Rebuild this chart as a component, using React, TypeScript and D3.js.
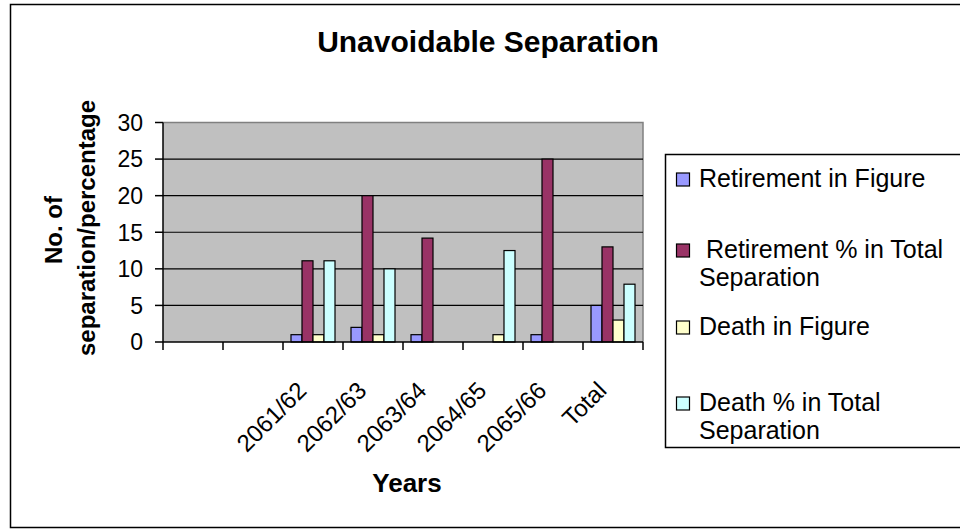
import React from "react";
import * as d3 from "d3";

// chart data
const categories = ["", "", "2061/62", "2062/63", "2063/64", "2064/65", "2065/66", "Total"];
const retirementFigure = [null, null, 1, 2, 1, 0, 1, 5];
const retirementPct = [null, null, 11.1, 20, 14.2, 0, 25, 13];
const deathFigure = [null, null, 1, 1, 0, 1, 0, 3];
const deathPct = [null, null, 11.1, 10, 0, 12.5, 0, 7.9];
const yTicks = [0, 5, 10, 15, 20, 25, 30];

const seriesLabels = [
  ["Retirement in Figure"],
  [" Retirement % in Total", "Separation"],
  ["Death in Figure"],
  ["Death % in Total", "Separation"],
];
const seriesColors = ["#9999FF", "#993366", "#FFFFCC", "#CCFFFF"];

const FONT = "'Liberation Sans', Arial, Helvetica, sans-serif";

export default function App() {
  const width = 960;
  const height = 529;
  const plot = { left: 163, right: 643, top: 122.5, bottom: 342 };

  const series = [retirementFigure, retirementPct, deathFigure, deathPct];

  const x0 = d3
    .scaleBand<number>()
    .domain(categories.map((_, i) => i))
    .range([plot.left, plot.right])
    .padding(0);

  const x1 = d3
    .scaleBand<number>()
    .domain(series.map((_, i) => i))
    .range([8, x0.bandwidth() - 8])
    .padding(0);

  const y = d3.scaleLinear().domain([0, 30]).range([plot.bottom, plot.top]);

  const bars: { key: string; x: number; y: number; w: number; h: number; fill: string }[] = [];
  categories.forEach((_, ci) => {
    series.forEach((s, si) => {
      const v = s[ci];
      if (v === null || v === 0) return;
      bars.push({
        key: `${ci}-${si}`,
        x: x0(ci)! + x1(si)!,
        y: y(v),
        w: x1.bandwidth(),
        h: y(0) - y(v),
        fill: seriesColors[si],
      });
    });
  });

  const boundaries = d3.range(categories.length + 1).map((i) =>
    i < categories.length ? x0(i)! : plot.right
  );

  const legendBaselines = [187, 258, 335, 411];

  return (
    <svg
      width={width}
      height={height}
      style={{ position: "absolute", left: 0, top: 0, background: "#fff" }}
      fontFamily={FONT}
    >
      <rect x={10.5} y={4.5} width={1000} height={523} fill="#fff" stroke="#000" strokeWidth={1.5} />

      <text x={488} y={52} textAnchor="middle" fontSize={30} fontWeight="bold">
        Unavoidable Separation
      </text>

      {/* plot area */}
      <rect
        x={plot.left}
        y={plot.top}
        width={plot.right - plot.left}
        height={plot.bottom - plot.top}
        fill="#C0C0C0"
      />
      <path
        d={`M${plot.left},${plot.top}H${plot.right}V${plot.bottom}`}
        fill="none"
        stroke="#808080"
        strokeWidth={1.5}
      />
      {yTicks
        .filter((t) => t > 0 && t < 30)
        .map((t) => (
          <line key={t} x1={plot.left} x2={plot.right} y1={y(t)} y2={y(t)} stroke="#000" strokeWidth={1.2} />
        ))}

      {bars.map((b) => (
        <rect key={b.key} x={b.x} y={b.y} width={b.w} height={b.h} fill={b.fill} stroke="#000" strokeWidth={1.2} />
      ))}

      {/* axes */}
      <line x1={plot.left} x2={plot.left} y1={plot.top} y2={plot.bottom} stroke="#000" strokeWidth={1.5} />
      <line x1={plot.left} x2={plot.right} y1={plot.bottom} y2={plot.bottom} stroke="#000" strokeWidth={1.5} />
      {yTicks.map((t) => (
        <g key={t}>
          <line x1={plot.left - 8} x2={plot.left} y1={y(t)} y2={y(t)} stroke="#000" strokeWidth={1.5} />
          <text x={143} y={y(t)} dy="0.36em" textAnchor="end" fontSize={23}>
            {t}
          </text>
        </g>
      ))}
      {boundaries.map((bx, i) => (
        <line key={i} x1={bx} x2={bx} y1={plot.bottom} y2={plot.bottom + 8} stroke="#000" strokeWidth={1.5} />
      ))}
      {categories.map((c, i) =>
        c ? (
          <text
            key={i}
            transform={`translate(${x0(i)! + x0.bandwidth() / 2 - 5},${plot.bottom + 50}) rotate(-45)`}
            textAnchor="end"
            fontSize={24}
          >
            {c}
          </text>
        ) : null
      )}

      <text x={407} y={492} textAnchor="middle" fontSize={26} fontWeight="bold">
        Years
      </text>
      <text transform="translate(62,230) rotate(-90)" textAnchor="middle" fontSize={24} fontWeight="bold">
        No. of
      </text>
      <text transform="translate(95,228) rotate(-90)" textAnchor="middle" fontSize={24} fontWeight="bold">
        separation/percentage
      </text>

      {/* legend */}
      <rect x={665.5} y={154.5} width={400} height={293} fill="#fff" stroke="#000" strokeWidth={1.5} />
      {seriesLabels.map((lines, i) => (
        <g key={i}>
          <rect
            x={676.5}
            y={legendBaselines[i] - 14}
            width={13}
            height={13}
            fill={seriesColors[i]}
            stroke="#000"
            strokeWidth={1.2}
          />
          {lines.map((ln, j) => (
            <text
              key={j}
              x={699}
              y={legendBaselines[i] + j * 28}
              fontSize={25}
              style={{ whiteSpace: "pre" }}
            >
              {ln}
            </text>
          ))}
        </g>
      ))}
    </svg>
  );
}
